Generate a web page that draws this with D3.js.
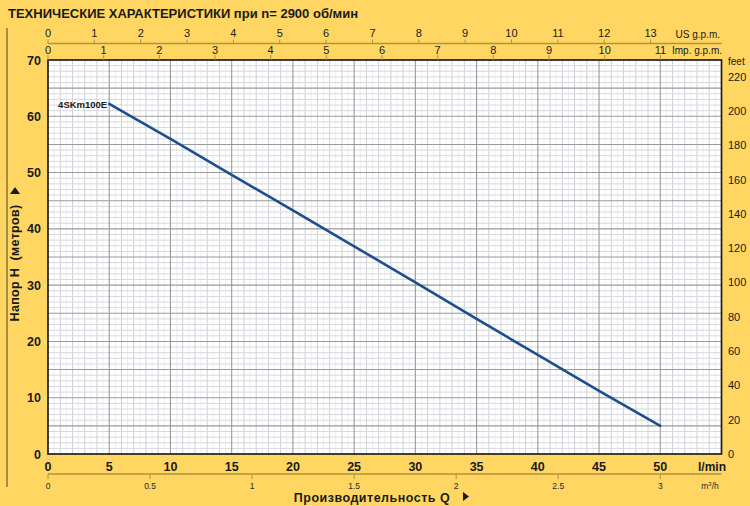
<!DOCTYPE html>
<html><head><meta charset="utf-8">
<script src="https://cdn.jsdelivr.net/npm/d3@7"></script>
<style>body{margin:0;background:#FFD662}svg{display:block}text{font-family:"Liberation Sans",Arial,sans-serif}</style>
</head><body><svg id="c" width="750" height="506"></svg>
<script>
const titleText = "ТЕХНИЧЕСКИЕ ХАРАКТЕРИСТИКИ при n= 2900 об/мин";
const seriesName = "4SKm100E";
const flowLmin = [5, 10, 15, 20, 25, 30, 35, 40, 45, 50];
const headM = [62.2, 56.0, 49.6, 43.3, 36.9, 30.5, 24.0, 17.6, 11.2, 5.0];
const lminTicks = [0, 5, 10, 15, 20, 25, 30, 35, 40, 45, 50];
const m3hTicks = [0, 0.5, 1, 1.5, 2, 2.5, 3];
const usGpmTicks = [0,1,2,3,4,5,6,7,8,9,10,11,12,13];
const impGpmTicks = [0,1,2,3,4,5,6,7,8,9,10,11];
const headTicks = [0, 10, 20, 30, 40, 50, 60, 70];
const feetTicks = [0, 20, 40, 60, 80, 100, 120, 140, 160, 180, 200, 220];

const svg = d3.select("#c");
const L = 48, R = 721.5, T = 60, B = 454;
const x = d3.scaleLinear([0, 55], [L, R]);
const y = d3.scaleLinear([0, 70], [B, T]);
const xUS = d3.scaleLinear([0, 55 / 3.785], [L, R]);
const xImp = d3.scaleLinear([0, 55 / 4.546], [L, R]);
const xM3h = d3.scaleLinear([0, 55 * 0.06], [L, R]);
const yFt = d3.scaleLinear([0, 70 * 3.281], [B, T]);

svg.append("rect").attr("width", 750).attr("height", 506).attr("fill", "#FFD662");

// title
svg.append("text").attr("x", 8).attr("y", 18).attr("font-size", 13).attr("font-weight", "bold")
  .attr("fill", "#1a1a1a").text(titleText);

// left decorative line
svg.append("line").attr("x1", 7).attr("x2", 7).attr("y1", 28).attr("y2", 487)
  .attr("stroke", "#6e5e30").attr("stroke-width", 1.2);

// plot background
svg.append("rect").attr("x", L).attr("y", T).attr("width", R - L).attr("height", B - T).attr("fill", "#fff");

// grid
const g = svg.append("g");
const vMinor = d3.range(0.5, 55, 0.5).filter(v => v % 5 !== 0);
g.selectAll(".vm").data(vMinor).join("line")
  .attr("x1", d => x(d)).attr("x2", d => x(d)).attr("y1", T).attr("y2", B)
  .attr("stroke", d => (d % 1 === 0) ? "#cdd0d7" : "#eeeef2").attr("stroke-width", 1);
const hMinor = d3.range(1, 70, 1).filter(v => v % 5 !== 0);
g.selectAll(".hm").data(hMinor).join("line")
  .attr("y1", d => y(d)).attr("y2", d => y(d)).attr("x1", L).attr("x2", R)
  .attr("stroke", "#d6d8de").attr("stroke-width", 1);
g.selectAll(".vM").data(d3.range(5, 55, 5)).join("line")
  .attr("x1", d => x(d)).attr("x2", d => x(d)).attr("y1", T).attr("y2", B)
  .attr("stroke", "#9a9a9a").attr("stroke-width", 1.1);
g.selectAll(".hM").data(d3.range(5, 70, 5)).join("line")
  .attr("y1", d => y(d)).attr("y2", d => y(d)).attr("x1", L).attr("x2", R)
  .attr("stroke", "#9a9a9a").attr("stroke-width", 1.1);

// border
svg.append("rect").attr("x", L).attr("y", T).attr("width", R - L).attr("height", B - T)
  .attr("fill", "none").attr("stroke", "#1e1e1e").attr("stroke-width", 1.7);

// curve
const line = d3.line().x((d, i) => x(flowLmin[i])).y(d => y(d));
svg.append("path").datum(headM).attr("d", line).attr("fill", "none")
  .attr("stroke", "#1d4f8c").attr("stroke-width", 2.6).attr("stroke-linecap", "round");
svg.append("text").attr("x", x(flowLmin[0]) - 2).attr("y", y(headM[0]) + 4)
  .attr("text-anchor", "end").attr("font-size", 9.5).attr("font-weight", "bold").attr("fill", "#1a1a1a")
  .text(seriesName);

// left axis labels
svg.selectAll(".yl").data(headTicks).join("text")
  .attr("x", 41).attr("y", d => y(d) + 4.5).attr("text-anchor", "end")
  .attr("font-size", 12.5).attr("font-weight", "bold").attr("fill", "#1a1a1a").text(d => d);

// right axis feet
svg.selectAll(".fl").data(feetTicks).join("text")
  .attr("x", 728).attr("y", d => yFt(d) + 4).attr("text-anchor", "start")
  .attr("font-size", 11).attr("fill", "#1a1a1a").text(d => d);
svg.append("text").attr("x", 728).attr("y", 65).attr("font-size", 10).attr("fill", "#1a1a1a").text("feet");

// bottom l/min labels
svg.selectAll(".xl").data(lminTicks).join("text")
  .attr("x", d => x(d)).attr("y", 471).attr("text-anchor", "middle")
  .attr("font-size", 12.5).attr("font-weight", "bold").attr("fill", "#1a1a1a").text(d => d);
svg.append("text").attr("x", 712).attr("y", 471).attr("text-anchor", "middle")
  .attr("font-size", 12).attr("font-weight", "bold").attr("fill", "#1a1a1a").text("l/min");

// m3/h axis
svg.append("line").attr("x1", L).attr("x2", R).attr("y1", 474).attr("y2", 474)
  .attr("stroke", "#b3923a").attr("stroke-width", 1.5);
svg.selectAll(".mt").data(m3hTicks).join("line")
  .attr("x1", d => xM3h(d)).attr("x2", d => xM3h(d)).attr("y1", 474).attr("y2", 479)
  .attr("stroke", "#b3923a").attr("stroke-width", 1);
svg.selectAll(".ml").data(m3hTicks).join("text")
  .attr("x", d => xM3h(d)).attr("y", 488.5).attr("text-anchor", "middle")
  .attr("font-size", 8.5).attr("fill", "#2a2a2a").text(d => d);
const mu = svg.append("text").attr("x", 710).attr("y", 488.5).attr("text-anchor", "middle")
  .attr("font-size", 8.5).attr("fill", "#2a2a2a");
mu.append("tspan").text("m");
mu.append("tspan").attr("dy", -3).attr("font-size", 6).text("3");
mu.append("tspan").attr("dy", 3).text("/h");

// x title
const xt = svg.append("text").attr("x", 372).attr("y", 502).attr("text-anchor", "middle")
  .attr("font-size", 12.5).attr("font-weight", "bold").attr("fill", "#1a1a1a").attr("letter-spacing", 0.5);
xt.append("tspan").text("Производительность Q");
svg.append("path").attr("d", "M463,492 L463,501 L469,496.5 Z").attr("fill", "#1a1a1a");

// y title
svg.append("text").attr("transform", "translate(19,263) rotate(-90)").attr("text-anchor", "middle")
  .attr("font-size", 12.5).attr("font-weight", "bold").attr("fill", "#1a1a1a").attr("letter-spacing", 0.3)
  .attr("xml:space", "preserve").text("Напор H  (метров)");
svg.append("path").attr("d", "M10,194 L20,194 L15,187 Z").attr("fill", "#1a1a1a");

// top axis line
svg.append("line").attr("x1", L).attr("x2", R).attr("y1", 43.5).attr("y2", 43.5)
  .attr("stroke", "#b3923a").attr("stroke-width", 1.5);
svg.selectAll(".ut").data(usGpmTicks).join("line")
  .attr("x1", d => xUS(d)).attr("x2", d => xUS(d)).attr("y1", 39.5).attr("y2", 43.5)
  .attr("stroke", "#b3923a").attr("stroke-width", 1);
svg.selectAll(".ul").data(usGpmTicks).join("text")
  .attr("x", d => xUS(d)).attr("y", 37).attr("text-anchor", "middle")
  .attr("font-size", 11).attr("fill", "#1a1a1a").text(d => d);
svg.selectAll(".it").data(impGpmTicks).join("line")
  .attr("x1", d => xImp(d)).attr("x2", d => xImp(d)).attr("y1", 55).attr("y2", 60)
  .attr("stroke", "#b3923a").attr("stroke-width", 1);
svg.selectAll(".il").data(impGpmTicks).join("text")
  .attr("x", d => xImp(d)).attr("y", 54).attr("text-anchor", "middle")
  .attr("font-size", 11).attr("fill", "#1a1a1a").text(d => d);
svg.append("text").attr("x", 720).attr("y", 38).attr("text-anchor", "end")
  .attr("font-size", 10).attr("fill", "#1a1a1a").text("US g.p.m.");
svg.append("text").attr("x", 722).attr("y", 54).attr("text-anchor", "end")
  .attr("font-size", 10).attr("fill", "#1a1a1a").text("Imp. g.p.m.");
</script></body></html>
